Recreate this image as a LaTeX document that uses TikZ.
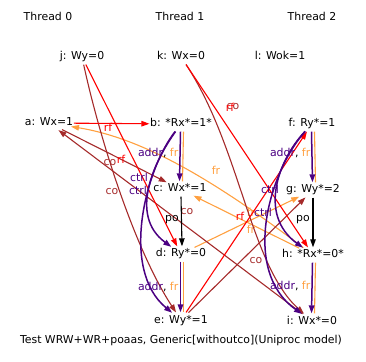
\documentclass[tikz,border=0pt]{standalone}
\usepackage{fontspec}
\setmainfont{DejaVu Sans}
\usetikzlibrary{arrows.meta,shapes.geometric}
\definecolor{rfc}{HTML}{FF0000}
\definecolor{coc}{HTML}{A52A2A}
\definecolor{frc}{HTML}{FFA040}
\definecolor{depc}{HTML}{4B0082}
\newcommand\tbx[1]{\makebox[0.72\width]{#1}}
\begin{document}
\begin{tikzpicture}[x=1pt,y=1pt,
  ev/.style={ellipse, inner xsep=0pt, inner ysep=0.3pt, text height=8pt, text depth=2pt, font=\fontsize{10.9}{13}\selectfont},
  plain/.style={inner sep=0pt, text height=8pt, text depth=2pt, font=\fontsize{10.9}{13}\selectfont},
  lbl/.style={inner sep=0pt, font=\fontsize{10.9}{13}\selectfont},
  arr/.style={-{Triangle[length=8pt,width=5.5pt]}},
  rfline/.style={arr, draw=rfc, line width=1.1pt},
  coline/.style={arr, draw=coc, line width=1.1pt},
  frline/.style={arr, draw=frc, line width=1.1pt},
  frplain/.style={draw=frc, line width=1.1pt},
  depline/.style={arr, draw=depc, line width=1.5pt},
  poline/.style={arr, draw=black, line width=1.1pt}
]
\useasboundingbox (0,0) rectangle (366,361);
% thread titles
\node[plain] (t0) at (48,343) {Thread 0};
\node[plain] (t1) at (180,343) {Thread 1};
\node[plain] (t2) at (312,343) {Thread 2};
% events
\node[ev] (j) at (82,304) {\tbx{j: Wy=0}};
\node[ev] (k) at (181,304) {\tbx{k: Wx=0}};
\node[ev] (l) at (280,304) {\tbx{l: Wok=1}};
\node[ev] (a) at (49,238) {\tbx{a: Wx=1}};
\node[ev] (b) at (181,237) {\tbx{b: *Rx*=1*}};
\node[ev] (f) at (312,237) {\tbx{f: Ry*=1}};
\node[ev] (c) at (180,172) {\tbx{c: Wx*=1}};
\node[ev] (g) at (313,171) {\tbx{g: Wy*=2}};
\node[ev] (d) at (181,107) {\tbx{d: Ry*=0}};
\node[ev] (h) at (313,106) {\tbx{h: *Rx*=0*}};
\node[ev] (e) at (181,41) {\tbx{e: Wy*=1}};
\node[ev] (i) at (312,40) {\tbx{i: Wx*=0}};
\node[plain] (cap) at (181,21) {Test WRW+WR+poaas, Generic[withoutco](Uniproc model)};

% fr edges
\draw[frplain] ([xshift=2.5pt]b.south) -- ([xshift=2.5pt]c.north);
\draw[frplain] ([xshift=2.5pt]d.south) -- ([xshift=2.5pt]e.north);
\draw[frplain] ([xshift=2.5pt]f.south) -- ([xshift=2.5pt]g.north);
\draw[frplain] ([xshift=2.5pt]h.south) -- ([xshift=2.5pt]i.north);
\draw[frline] (h) .. controls (223,174) and (148,222) .. (a)
  node[lbl, text=frc, at={(216,191)}] {fr};
\draw[frline] (d) -- (g) node[lbl, text=frc, at={(251,149)}] {fr};
\draw[frline] (h) -- (c) node[lbl, text=frc, at={(251,132)}] {fr};

% co edges
\draw[coline] (k) .. controls (240,215) and (250,96) .. (i)
  node[lbl, text=coc, at={(233,254)}] {co};
\draw[coline] (i) -- (a) node[lbl, text=coc, at={(187,149)}] {co};
\draw[coline] (a) -- (c) node[lbl, text=coc, at={(110,198)}] {co};
\draw[coline] (j) .. controls (100,221) and (135,111) .. (e)
  node[lbl, text=coc, at={(112,169)}] {co};
\draw[coline] (e) -- (g) node[lbl, text=coc, at={(256,100)}] {co};

% rf edges
\draw[rfline] (a) -- (b) node[lbl, text=rfc, at={(108,234)}] {rf};
\draw[rfline] (j) -- (d) node[lbl, text=rfc, at={(121,202)}] {rf};
\draw[rfline] (k) -- (h) node[lbl, text=rfc, at={(230,254)}] {rf};
\draw[rfline] (e) -- (f) node[lbl, text=rfc, at={(240,145)}] {rf};

% po edges
\draw[poline] ([xshift=1pt]c.south) -- ([xshift=1pt]d.north)
  node[lbl, at={(172,141)}] {po};
\draw[poline] (g.south) -- (h.north)
  node[lbl, at={(303,141)}] {po};

% addr edges
\draw[depline] ([xshift=-0.5pt]b.south) -- ([xshift=-0.5pt]c.north)
  node[lbl, anchor=east, at={(179,208)}] {\textcolor{depc}{addr}, \textcolor{frc}{fr}};
\draw[depline] ([xshift=-0.5pt]d.south) -- ([xshift=-0.5pt]e.north)
  node[lbl, anchor=east, at={(179,74)}] {\textcolor{depc}{addr}, \textcolor{frc}{fr}};
\draw[depline] ([xshift=-0.5pt]f.south) -- ([xshift=-0.5pt]g.north)
  node[lbl, anchor=east, at={(311,208)}] {\textcolor{depc}{addr}, \textcolor{frc}{fr}};
\draw[depline] ([xshift=-0.5pt]h.south) -- ([xshift=-0.5pt]i.north)
  node[lbl, anchor=east, at={(311,75)}] {\textcolor{depc}{addr}, \textcolor{frc}{fr}};

% ctrl edges
\draw[depline] (b) .. controls (155,201) and (128,146) .. (d)
  node[lbl, text=depc, at={(139,184)}] {ctrl};
\draw[depline] (b) .. controls (145,191) and (120,91) .. (e)
  node[lbl, text=depc, at={(138,171)}] {ctrl};
\draw[depline] (f) .. controls (278,201) and (258,146) .. (h)
  node[lbl, text=depc, at={(270,172)}] {ctrl};
\draw[depline] (f) .. controls (270,191) and (240,91) .. (i)
  node[lbl, text=depc, at={(263,149)}] {ctrl};
\end{tikzpicture}
\end{document}
